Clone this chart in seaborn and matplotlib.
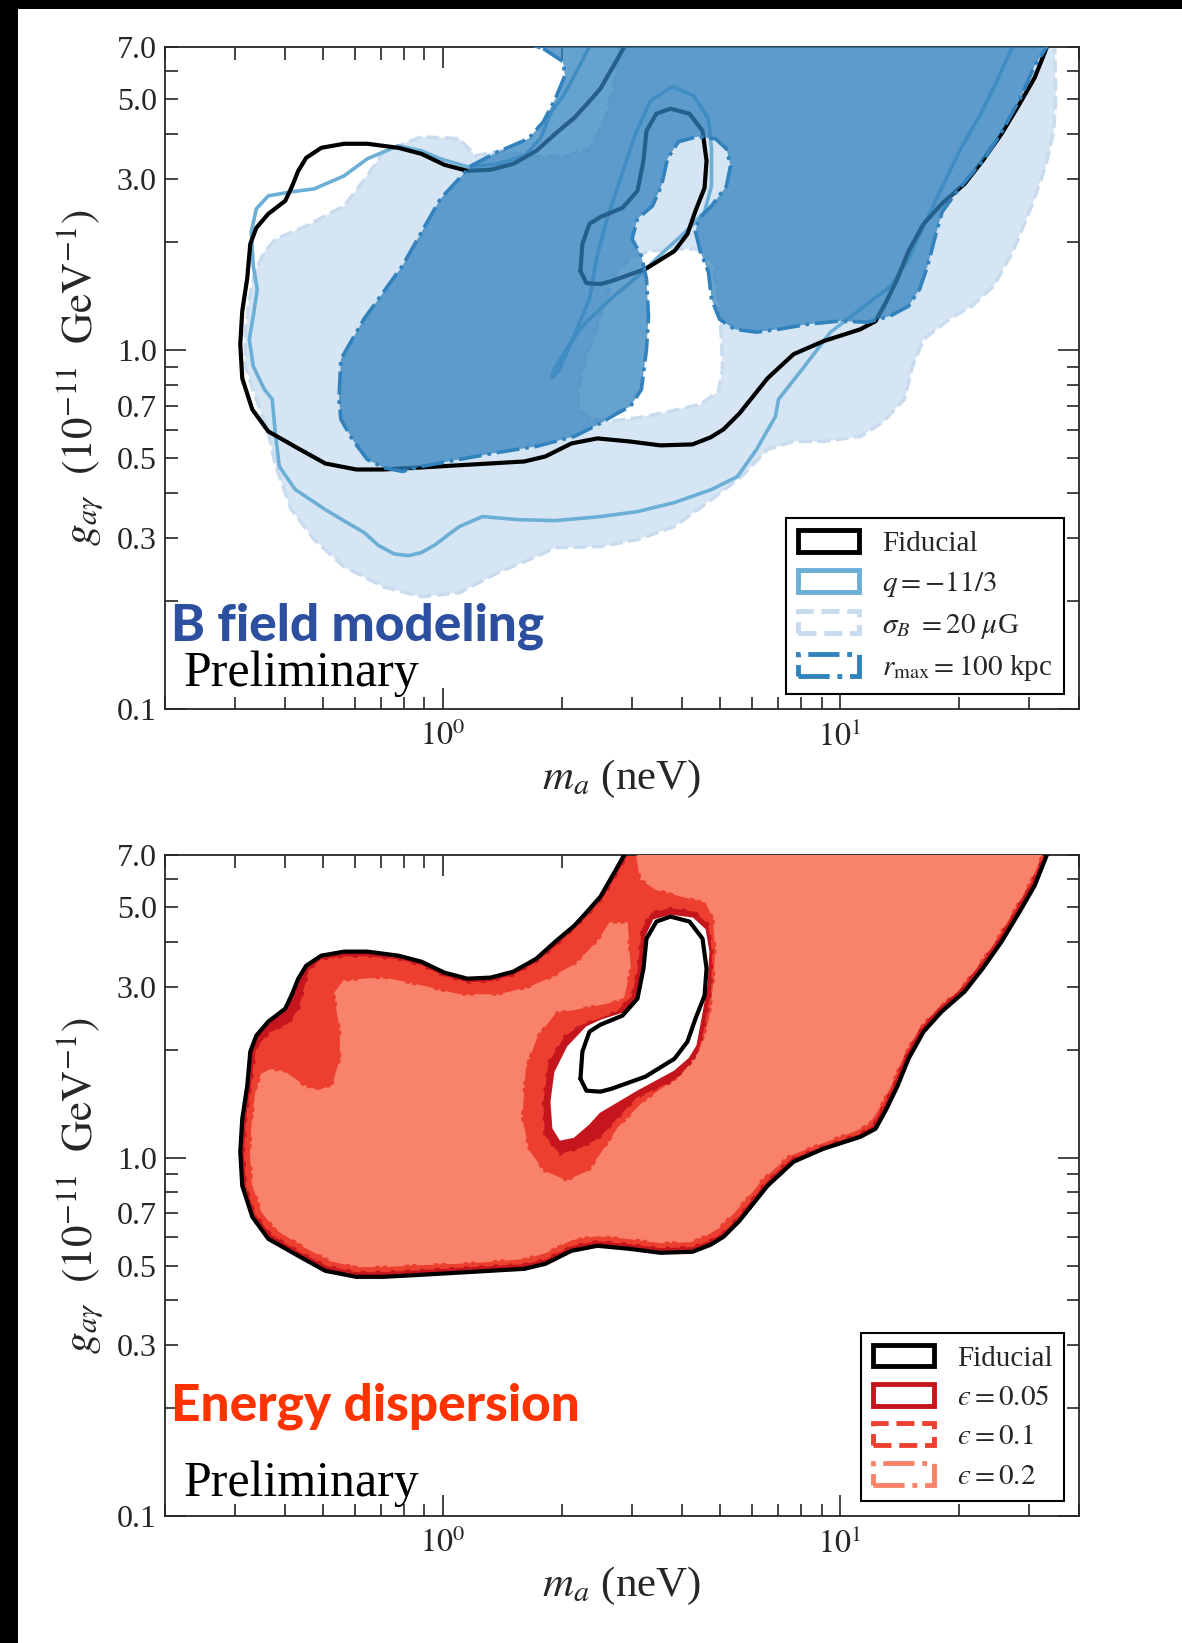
import numpy as np
import matplotlib
matplotlib.use("Agg")
import matplotlib.pyplot as plt
import seaborn as sns
from matplotlib.path import Path
from matplotlib.patches import PathPatch, Patch, Rectangle
from matplotlib.ticker import FixedLocator, FuncFormatter, NullFormatter

# ---------------- data (m_a in neV, g_agamma in 1e-11 GeV^-1) ----------------
fid_m = [2.885, 2.723, 2.496, 2.288, 2.146, 1.922, 1.722, 1.507, 1.319, 1.154, 1.010, 0.884, 0.773, 0.646, 0.565,
         0.495, 0.4535, 0.433, 0.4182, 0.4016, 0.3639, 0.3395, 0.3279, 0.3222, 0.313, 0.3094, 0.313, 0.3317, 0.3639,
         0.433, 0.5065, 0.6064, 0.709, 0.8788, 1.188, 1.606, 1.814, 2.11, 2.453, 2.953, 3.535, 4.256, 4.724, 5.094,
         5.589, 6.134, 6.575, 7.645, 9.097, 11.27, 12.30, 13.11, 13.98, 14.89, 16.25, 18.04, 20.61, 22.88, 25.54,
         28.36, 30.94, 33.37]
fid_g = [7.1, 6.335, 5.358, 4.803, 4.446, 4.012, 3.596, 3.308, 3.183, 3.162, 3.287, 3.527, 3.666, 3.762, 3.762,
         3.666, 3.438, 3.162, 2.871, 2.608, 2.399, 2.192, 1.978, 1.589, 1.285, 1.039, 0.835, 0.6842, 0.5939, 0.5324,
         0.4834, 0.4651, 0.4651, 0.4711, 0.4803, 0.4897, 0.5057, 0.5498, 0.5678, 0.5569, 0.5429, 0.5464, 0.5715,
         0.6017, 0.6668, 0.7584, 0.835, 0.9746, 1.060, 1.144, 1.205, 1.370, 1.589, 1.890, 2.249, 2.557, 2.909, 3.373,
         4.012, 4.865, 5.751, 7.1]
fid_hole_m = [2.223, 2.248, 2.342, 2.496, 2.836, 3.094, 3.203, 3.260, 3.453, 3.746, 4.183, 4.511, 4.617, 4.564,
              4.330, 4.134, 3.834, 3.240, 2.661, 2.496, 2.301, 2.223]
fid_hole_g = [1.662, 1.978, 2.249, 2.352, 2.493, 2.781, 3.373, 4.090, 4.563, 4.712, 4.563, 4.090, 3.373, 2.835,
              2.445, 2.109, 1.890, 1.684, 1.558, 1.529, 1.539, 1.662]

q_m = [2.369, 2.146, 2.014, 1.878, 1.762, 1.606, 1.373, 1.154, 0.987, 0.884, 0.773, 0.646, 0.565, 0.4751, 0.4158,
       0.3639, 0.3395, 0.3298, 0.3336, 0.3414, 0.3336, 0.3260, 0.3336, 0.3556, 0.3724, 0.3790, 0.3879, 0.4256,
       0.5065, 0.569, 0.6351, 0.689, 0.7557, 0.8196, 0.884, 0.9585, 1.034, 1.102, 1.259, 1.542, 1.922, 2.496,
       3.094, 3.834, 4.752, 5.525, 6.170, 6.887, 7.008, 8.149, 9.475, 11.27, 13.42, 14.89, 16.25, 18.15, 20.14,
       22.49, 24.53, 26.60, 27.54]
q_g = [7.2, 5.826, 5.122, 4.622, 3.885, 3.482, 3.308, 3.245, 3.416, 3.596, 3.714, 3.416, 3.062, 2.817, 2.763,
       2.693, 2.477, 2.136, 1.717, 1.480, 1.245, 1.073, 0.9022, 0.7783, 0.7298, 0.5902, 0.4742, 0.4090, 0.3596,
       0.3330, 0.3101, 0.2858, 0.2705, 0.2676, 0.2728, 0.2871, 0.3062, 0.3225, 0.3438, 0.3372, 0.3350, 0.3438,
       0.3550, 0.3762, 0.4090, 0.4446, 0.5290, 0.6543, 0.7298, 0.9022, 1.123, 1.302, 1.509, 1.795, 2.220, 2.871,
       3.642, 4.504, 5.463, 6.626, 7.2]
q_loop_m = [3.790, 4.280, 4.669, 4.752, 4.752, 4.564, 4.086, 3.597, 3.148, 2.645, 2.248, 2.049, 1.900, 1.889,
            1.956, 2.097, 2.342, 2.439, 2.570, 2.803, 3.058, 3.336, 3.790]
q_loop_g = [5.428, 5.122, 4.418, 3.642, 2.871, 2.429, 2.136, 1.878, 1.631, 1.388, 1.167, 1.006, 0.8737, 0.8406,
            0.8737, 1.039, 1.388, 1.795, 2.249, 3.004, 4.012, 4.961, 5.428]

sigB_m = [0.3395, 0.3184, 0.3184, 0.3260, 0.3365, 0.3556, 0.3801, 0.4535, 0.565, 0.646, 0.709, 0.884, 1.102, 1.209,
          1.397, 1.722, 2.049, 2.355, 2.570, 2.723, 2.803, 34.74, 34.94, 34.54, 32.97, 30.40, 27.23, 24.39, 21.46,
          18.89, 16.25, 15.24, 14.55, 13.98, 12.81, 11.27, 9.097, 7.645, 6.575, 5.654, 4.752, 3.834, 3.094, 2.496,
          1.922, 1.722, 1.377, 1.102, 0.884, 0.709, 0.565, 0.4751, 0.4158, 0.3801, 0.3639]
sigB_g = [0.7298, 0.9022, 1.123, 1.388, 1.651, 1.878, 2.042, 2.220, 2.525, 3.062, 3.573, 3.936, 3.885, 3.482,
          3.596, 3.460, 3.482, 3.642, 4.418, 5.715, 7.2, 7.2, 5.024, 4.064, 3.266, 2.525, 1.878, 1.509, 1.327, 1.221,
          1.073, 0.9022, 0.7298, 0.6975, 0.6293, 0.5752, 0.5569, 0.5569, 0.5290, 0.4446, 0.3835, 0.3225, 0.2965,
          0.2835, 0.2817, 0.2658, 0.2398, 0.2109, 0.2055, 0.2192, 0.2492, 0.2965, 0.3596, 0.4742, 0.5902]
sigB_hole_m = [2.355, 2.197, 2.197, 2.288, 2.439, 2.570, 2.723, 2.971, 3.336, 3.856, 4.355, 4.779, 4.948, 5.035,
               5.064, 4.948, 4.458, 3.746, 3.148, 2.645]
sigB_hole_g = [0.6418, 0.6842, 0.7783, 0.9438, 1.144, 1.388, 1.631, 1.818, 1.890, 1.915, 1.915, 1.773, 1.388, 1.073,
               0.8849, 0.7681, 0.7066, 0.6756, 0.6500, 0.6334]

rmax_m = [1.606, 33.75, 32.97, 30.94, 28.44, 25.54, 23.42, 19.68, 18.09, 17.32, 16.63, 15.88, 14.89, 13.38, 11.74,
          9.925, 8.340, 7.008, 6.170, 5.430, 4.977, 4.752, 4.669, 4.458, 4.330, 4.407, 4.752, 5.183, 5.305, 5.183,
          4.863, 4.368, 3.924, 3.681, 3.555, 3.375, 3.094, 2.998, 3.166, 3.260, 3.298, 3.260, 3.166, 2.971, 2.723,
          2.496, 2.146, 1.722, 1.377, 1.102, 0.884, 0.7914, 0.709, 0.646, 0.5925, 0.5544, 0.5483, 0.5544, 0.6335,
          0.7914, 0.987, 1.179, 1.377, 1.644, 1.793, 1.922, 2.031, 2.009, 1.793]
rmax_g = [7.2, 7.2, 6.931, 6.214, 5.024, 4.064, 3.482, 2.763, 2.429, 2.042, 1.717, 1.480, 1.327, 1.245, 1.197,
          1.205, 1.182, 1.144, 1.123, 1.144, 1.221, 1.388, 1.651, 1.878, 2.136, 2.322, 2.525, 2.871, 3.266, 3.642,
          3.885, 3.936, 3.811, 3.416, 2.871, 2.525, 2.322, 2.042, 1.830, 1.579, 1.245, 1.006, 0.7783, 0.6975,
          0.6626, 0.6254, 0.5752, 0.5395, 0.5189, 0.4961, 0.4742, 0.4592, 0.4711, 0.4961, 0.5642, 0.6418, 0.7298,
          0.9438, 1.221, 1.717, 2.641, 3.266, 3.573, 3.885, 4.334, 5.024, 5.826, 6.375, 6.931]

# energy dispersion regions (outer edge of eps=0.05 coincides with the fiducial contour)
eps05_hole_m = [2.496, 2.288, 2.049, 1.900, 1.857, 1.878, 1.968, 2.146, 2.342, 2.496, 3.094, 3.834, 4.183, 4.381,
                4.511, 4.669, 4.724, 4.617, 4.280, 3.746, 3.375, 3.222, 3.166, 3.094, 2.836]
eps05_hole_g = [2.445, 2.337, 2.055, 1.739, 1.434, 1.205, 1.108, 1.130, 1.228, 1.327, 1.529, 1.739, 1.890, 2.055,
                2.445, 3.023, 3.762, 4.362, 4.712, 4.803, 4.652, 4.170, 3.373, 2.835, 2.557]
eps10_m = [2.971, 2.803, 2.570, 2.328, 1.944, 1.722, 1.507, 1.319, 1.154, 1.010, 0.884, 0.773, 0.646, 0.565, 0.495,
           0.4642, 0.4509, 0.4382, 0.4134, 0.3681, 0.3414, 0.3317, 0.3222, 0.3184, 0.3222, 0.3395, 0.3724, 0.4382,
           0.5125, 0.6064, 0.709, 0.8788, 1.188, 1.606, 1.814, 2.110, 2.453, 2.953, 3.535, 4.256, 4.724, 5.094,
           5.525, 6.027, 6.461, 7.512, 9.097, 11.15, 12.02, 12.81, 13.66, 14.55, 15.88, 17.62, 20.14, 22.36, 24.96,
           27.71, 30.23, 32.60]
eps10_g = [7.1, 6.335, 5.358, 4.712, 3.885, 3.482, 3.203, 3.083, 3.062, 3.183, 3.416, 3.550, 3.620, 3.620, 3.550,
           3.329, 2.966, 2.608, 2.367, 2.220, 2.016, 1.589, 1.285, 1.039, 0.835, 0.6975, 0.6133, 0.5498, 0.5026,
           0.4834, 0.4834, 0.4897, 0.4994, 0.5088, 0.5257, 0.5715, 0.5902, 0.5789, 0.5642, 0.5678, 0.5939, 0.6254,
           0.6887, 0.7783, 0.8570, 1.0, 1.087, 1.174, 1.236, 1.406, 1.631, 1.940, 2.307, 2.624, 2.985, 3.460, 4.117,
           4.993, 5.903, 7.1]
eps10_hole_m = [2.223, 2.014, 1.835, 1.778, 1.793, 1.968, 2.248, 2.496, 3.094, 3.834, 4.381, 4.589, 4.779, 4.807,
                4.697, 4.330, 3.746, 3.336, 3.148, 3.075, 2.971, 2.723, 2.496]
eps10_hole_g = [2.367, 2.192, 1.854, 1.434, 1.152, 1.013, 1.060, 1.130, 1.462, 1.631, 1.890, 2.293, 2.966, 3.762,
                4.504, 4.898, 5.024, 4.865, 4.362, 3.373, 2.835, 2.573, 2.477]
eps20_m = [3.130, 32.22, 29.88, 27.39, 24.68, 22.11, 19.91, 17.42, 15.70, 14.39, 13.50, 12.66, 11.81, 10.95, 9.045,
           7.426, 6.350, 5.888, 5.398, 4.948, 4.589, 4.207, 3.535, 2.953, 2.453, 2.110, 1.814, 1.606, 1.188, 0.8788,
           0.709, 0.6064, 0.5215, 0.4483, 0.3813, 0.3514, 0.3336, 0.3298, 0.3336, 0.3414, 0.3514, 0.3681, 0.3970,
           0.4432, 0.4863, 0.5305, 0.5557, 0.5557, 0.5429, 0.5366, 0.565, 0.709, 0.884, 1.102, 1.381, 1.644, 1.878,
           2.146, 2.342, 2.496, 2.645, 2.902, 2.953, 2.836, 2.496, 2.146, 1.922, 1.722, 1.606, 1.574, 1.644, 1.793,
           2.049, 2.342, 2.570, 2.771, 3.231, 4.017, 4.458, 4.724, 4.835, 4.891, 4.835, 4.617, 4.017, 3.453, 3.166,
           3.094]
eps20_g = [7.1, 7.1, 5.866, 4.961, 4.090, 3.438, 2.966, 2.608, 2.293, 1.927, 1.631, 1.415, 1.252, 1.197, 1.108,
           1.019, 0.8737, 0.7882, 0.7066, 0.6418, 0.6095, 0.5864, 0.5825, 0.5977, 0.6095, 0.5939, 0.5464, 0.5257,
           0.5124, 0.5057, 0.4994, 0.4994, 0.5189, 0.5678, 0.6334, 0.7112, 0.8459, 1.039, 1.285, 1.558, 1.706, 1.750,
           1.739, 1.589, 1.529, 1.589, 1.890, 2.249, 2.658, 2.871, 3.102, 3.162, 3.004, 2.835, 2.835, 2.966, 3.162,
           3.438, 3.762, 4.090, 4.504, 4.504, 3.373, 2.781, 2.693, 2.608, 2.557, 2.192, 1.773, 1.285, 1.039, 0.9140,
           0.8570, 0.9140, 1.060, 1.205, 1.434, 1.694, 1.978, 2.445, 3.023, 3.762, 4.652, 5.188, 5.393, 5.641, 6.016,
           6.977]

x_major = [1, 10]
x_minor = [0.2, 0.3, 0.4, 0.5, 0.6, 0.7, 0.8, 0.9, 2, 3, 4, 5, 6, 7, 8, 9, 20, 30, 40]
y_major = [0.1, 1.0]
y_minor = [0.2, 0.3, 0.4, 0.5, 0.6, 0.7, 0.8, 0.9, 2, 3, 4, 5, 6, 7]
y_labeled = [0.1, 0.3, 0.5, 0.7, 1.0, 3.0, 5.0, 7.0]

top_labels = ["Fiducial", r"$q=-11/3$", r"$\sigma_B\ =20\ \mu$G", r"$r_{\rm max}=100$ kpc"]
bot_labels = ["Fiducial", "$\u03f5=0.05$", "$\u03f5=0.1$", "$\u03f5=0.2$"]

# ---------------- style ----------------
sns.set_style("ticks")
plt.rcParams["font.family"] = ["Liberation Serif", "DejaVu Serif"]
plt.rcParams["mathtext.fontset"] = "stix"
plt.rcParams["axes.linewidth"] = 1.3
plt.rcParams["lines.solid_joinstyle"] = "round"

C_FID = "black"
C_Q = "#6baed6"
C_SIGB_FILL = "#d6e5f3"
C_SIGB_EDGE = "#c8dbef"
C_RMAX = "#3182bd"
C_E05 = "#c4161c"
C_E10 = "#ec3f30"
C_E20 = "#f8836a"


def region_path(parts):
    verts, codes = [], []
    for i, (xs, ys) in enumerate(parts):
        pts = np.column_stack([np.asarray(xs, float), np.asarray(ys, float)])
        lp = np.log10(pts)
        area = 0.5 * np.sum(lp[:, 0] * np.roll(lp[:, 1], -1) - np.roll(lp[:, 0], -1) * lp[:, 1])
        want_ccw = (i == 0)
        if (area > 0) != want_ccw:
            pts = pts[::-1]
        verts += list(pts) + [pts[0]]
        codes += [Path.MOVETO] + [Path.LINETO] * (len(pts) - 1) + [Path.CLOSEPOLY]
    return Path(verts, codes)


def style_axes(ax):
    ax.set_xscale("log")
    ax.set_yscale("log")
    ax.set_xlim(0.2, 40)
    ax.set_ylim(0.1, 7.0)
    ax.xaxis.set_major_locator(FixedLocator(x_major))
    ax.xaxis.set_minor_locator(FixedLocator(x_minor))
    ax.xaxis.set_major_formatter(FuncFormatter(lambda v, p: r"$10^{%d}$" % int(round(np.log10(v)))))
    ax.xaxis.set_minor_formatter(NullFormatter())
    ax.yaxis.set_major_locator(FixedLocator(y_major))
    ax.yaxis.set_minor_locator(FixedLocator(y_minor))
    fmt = FuncFormatter(lambda v, p: ("%.1f" % v) if np.any(np.isclose(v, y_labeled)) else "")
    ax.yaxis.set_major_formatter(fmt)
    ax.yaxis.set_minor_formatter(fmt)
    ax.tick_params(which="both", direction="in", top=True, right=True, width=1.2,
                   labelsize=23, pad=6)
    ax.tick_params(axis="x", which="both", pad=9)
    ax.tick_params(which="major", length=15)
    ax.tick_params(which="minor", length=9)
    ax.set_xlabel(r"$m_a$ (neV)", fontsize=31, labelpad=4)
    ax.set_ylabel(r"$g_{a\gamma}\ \ (10^{-11}\ \ \mathrm{GeV}^{-1})$", fontsize=31, labelpad=8)


def add_legend(ax, labels, colors, styles):
    handles = [Patch(facecolor="white", edgecolor=c, linewidth=3.5, linestyle=s)
               for c, s in zip(colors, styles)]
    leg = ax.legend(handles, labels, loc="lower right", fontsize=21, frameon=True, fancybox=False,
                    framealpha=1, edgecolor="black", handlelength=2.1, handleheight=0.78,
                    handletextpad=0.8, labelspacing=0.42, borderpad=0.4, borderaxespad=0.5)
    leg.get_frame().set_linewidth(1.5)
    return leg


fig = plt.figure(figsize=(11.82, 16.43), dpi=100)
fig.patch.set_facecolor("white")
ax1 = fig.add_axes([0.13959, 0.56847, 0.77327, 0.40292])
ax2 = fig.add_axes([0.13959, 0.07730, 0.77327, 0.40231])

for ax in (ax1, ax2):
    ax.set_xscale("log")
    ax.set_yscale("log")

# ---------------- top panel: B field modeling ----------------
ax1.add_patch(PathPatch(region_path([(sigB_m, sigB_g), (sigB_hole_m, sigB_hole_g)]),
                        facecolor=C_SIGB_FILL, edgecolor=C_SIGB_EDGE, lw=2.5, ls="--", zorder=1))
sns.lineplot(x=q_m, y=q_g, sort=False, estimator=None, color=C_Q, lw=2.6, ax=ax1, zorder=2)
sns.lineplot(x=q_loop_m, y=q_loop_g, sort=False, estimator=None, color=C_Q, lw=2.6, ax=ax1, zorder=2)
sns.lineplot(x=fid_m, y=fid_g, sort=False, estimator=None, color=C_FID, lw=3.0, ax=ax1, zorder=3)
sns.lineplot(x=fid_hole_m, y=fid_hole_g, sort=False, estimator=None, color=C_FID, lw=3.0, ax=ax1, zorder=3)
ax1.add_patch(PathPatch(region_path([(rmax_m, rmax_g)]), facecolor=C_RMAX, edgecolor="none",
                        alpha=0.74, zorder=4))
ax1.add_patch(PathPatch(region_path([(rmax_m, rmax_g)]), facecolor="none", edgecolor=C_RMAX,
                        lw=2.6, ls="-.", zorder=5))

# ---------------- bottom panel: energy dispersion ----------------
ax2.add_patch(PathPatch(region_path([(fid_m, fid_g), (eps05_hole_m, eps05_hole_g)]),
                        facecolor=C_E05, edgecolor=C_E05, lw=1.5, ls="-", zorder=1))
ax2.add_patch(PathPatch(region_path([(eps10_m, eps10_g), (eps10_hole_m, eps10_hole_g)]),
                        facecolor=C_E10, edgecolor=C_E10, lw=2.0, ls="--", zorder=2))
ax2.add_patch(PathPatch(region_path([(eps20_m, eps20_g)]),
                        facecolor=C_E20, edgecolor=C_E20, lw=2.0, ls="-.", zorder=3))
sns.lineplot(x=fid_m, y=fid_g, sort=False, estimator=None, color=C_FID, lw=3.0, ax=ax2, zorder=4)
sns.lineplot(x=fid_hole_m, y=fid_hole_g, sort=False, estimator=None, color=C_FID, lw=3.0, ax=ax2, zorder=4)

for ax in (ax1, ax2):
    style_axes(ax)

add_legend(ax1, top_labels, [C_FID, C_Q, C_SIGB_EDGE, C_RMAX], ["-", "-", "--", "-."])
add_legend(ax2, bot_labels, [C_FID, C_E05, C_E10, C_E20], ["-", "-", "--", "-."])

# annotations
ax1.text(0.007, 0.104, "B field modeling", transform=ax1.transAxes, fontsize=37,
         family=["Lato", "DejaVu Sans"], fontweight="black", color="#2c4f9f", va="baseline", zorder=10)
ax1.text(0.020, 0.034, "Preliminary", transform=ax1.transAxes, fontsize=36, color="black",
         va="baseline", zorder=10)
ax2.text(0.007, 0.145, "Energy dispersion", transform=ax2.transAxes, fontsize=37,
         family=["Lato", "DejaVu Sans"], fontweight="black", color="#ff3300", va="baseline", zorder=10)
ax2.text(0.020, 0.030, "Preliminary", transform=ax2.transAxes, fontsize=36, color="black",
         va="baseline", zorder=10)

# black frame strips of the original slide
fig.add_artist(Rectangle((0, 1 - 9 / 1643), 1, 9 / 1643, transform=fig.transFigure,
                         facecolor="black", edgecolor="none"))
fig.add_artist(Rectangle((0, 0), 18 / 1182, 1, transform=fig.transFigure,
                         facecolor="black", edgecolor="none"))

fig.savefig("out.png", dpi=100)
